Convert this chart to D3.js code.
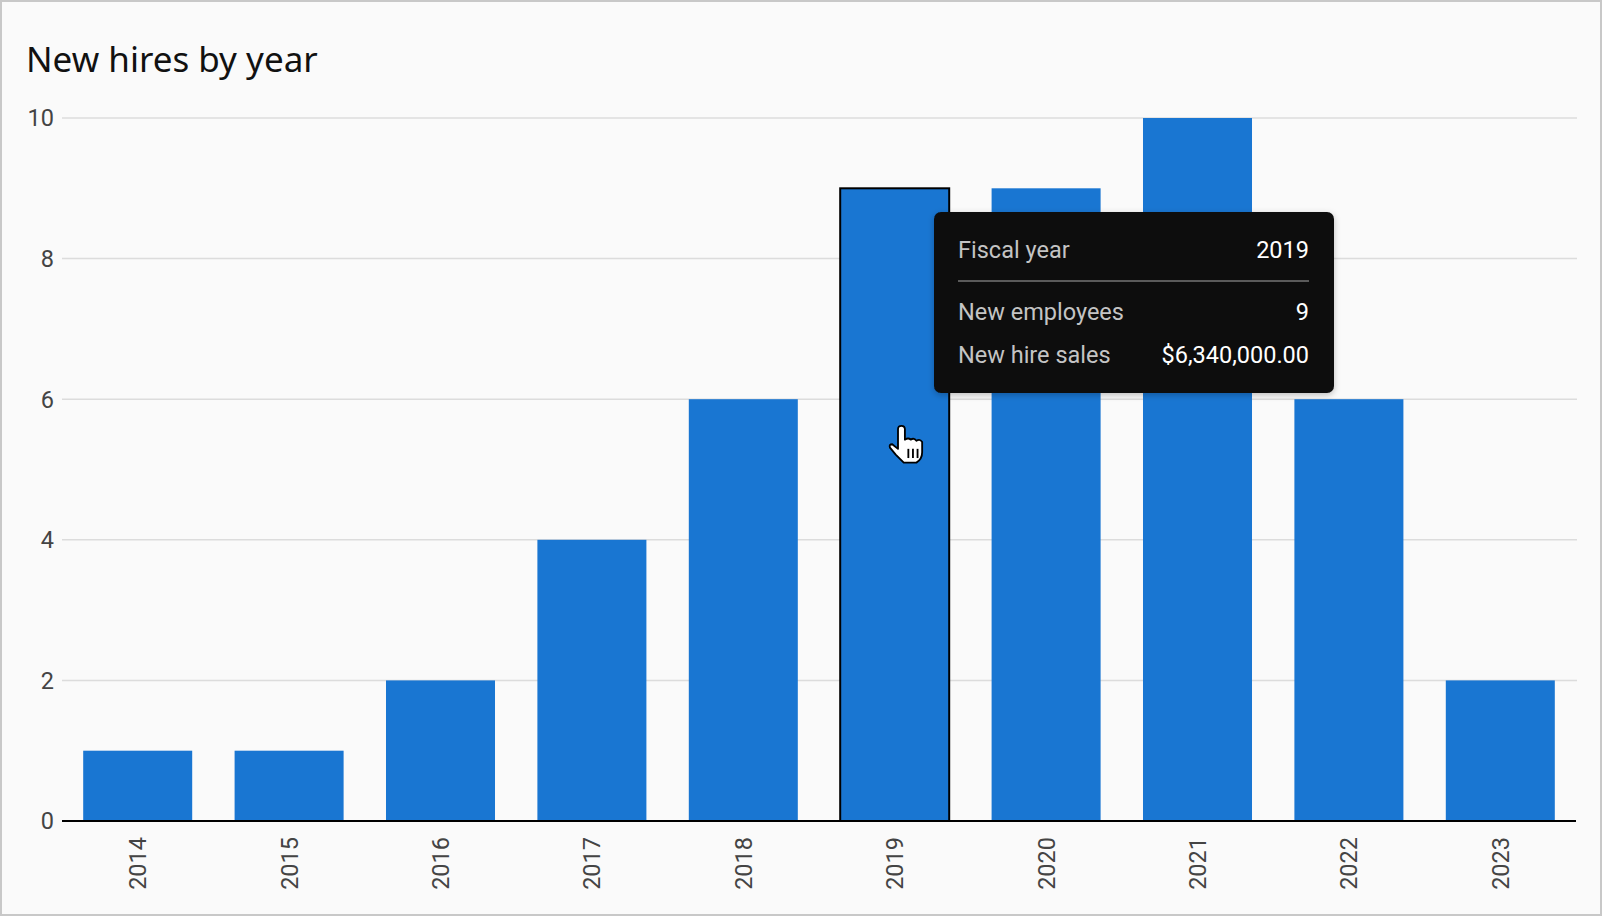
<!DOCTYPE html>
<html>
<head lang="en">
    <meta charset="UTF-8">
    <title> New hires by year </title>
    <script type="text/javascript" src="https://cdn.jsdelivr.net/npm/d3@7"></script>
    <style>
        html, body { margin: 0; padding: 0; background: #ffffff; }
        svg { display: block; }
    </style>
</head>
<body>
<div id="chart"></div>

<script>

    // data
    var years     = ["2014","2015","2016","2017","2018","2019","2020","2021","2022","2023"];
    var employees = [1, 1, 2, 4, 6, 9, 9, 10, 6, 2];
    var yTicks    = [0, 2, 4, 6, 8, 10];

    // tooltip content (hovered year)
    var tipYear   = "2019";
    var tipLabels = ["Fiscal year", "New employees", "New hire sales"];
    var tipValues = ["2019", "9", "$6,340,000.00"];

    var W = 1602, H = 916;
    var barColor = "#1976d2";

    var svg = d3.select("#chart").append("svg")
            .attr("width", W)
            .attr("height", H);

    // card background + border
    svg.append("rect")
            .attr("x", 1).attr("y", 1)
            .attr("width", W - 2).attr("height", H - 2)
            .style("fill", "#fafafa")
            .style("stroke", "#c8c8c8")
            .style("stroke-width", 2);

    svg.append("text")
            .attr("x", 26)
            .attr("y", 72)
            .text("New hires by year")
            .style("font-family", "Noto Sans")
            .style("font-size", "35px")
            .style("fill", "#111");

    var x = d3.scaleBand()
            .domain(years)
            .range([62, 1576])
            .paddingInner(0.28)
            .paddingOuter(0.14);

    var y = d3.scaleLinear()
            .domain([0, 10])
            .range([821, 118]);

    // grid lines
    svg.append("g")
            .selectAll("line")
            .data(yTicks.filter(function (d) { return d > 0; }))
            .enter().append("line")
            .attr("x1", 62).attr("x2", 1577)
            .attr("y1", function (d) { return y(d); })
            .attr("y2", function (d) { return y(d); })
            .style("stroke", "#dcdcdc")
            .style("stroke-width", 1.5);

    // y labels
    svg.append("g")
            .selectAll("text")
            .data(yTicks)
            .enter().append("text")
            .attr("x", 54)
            .attr("y", function (d) { return y(d); })
            .attr("dy", "0.36em")
            .attr("text-anchor", "end")
            .text(function (d) { return d; })
            .style("font-family", "Roboto")
            .style("font-size", "23.5px")
            .style("fill", "#444");

    // bars
    svg.append("g")
            .selectAll("rect")
            .data(years)
            .enter().append("rect")
            .attr("x", function (d) { return x(d); })
            .attr("y", function (d, i) { return y(employees[i]); })
            .attr("width", x.bandwidth())
            .attr("height", function (d, i) { return y(0) - y(employees[i]); })
            .style("fill", barColor)
            .style("stroke", function (d) { return d == tipYear ? "#000" : "none"; })
            .style("stroke-width", 2);

    // baseline
    svg.append("line")
            .attr("x1", 62).attr("x2", 1576)
            .attr("y1", y(0)).attr("y2", y(0))
            .style("stroke", "#000")
            .style("stroke-width", 2);

    // x labels, rotated
    svg.append("g")
            .selectAll("text")
            .data(years)
            .enter().append("text")
            .attr("transform", function (d) {
                return "translate(" + (x(d) + x.bandwidth() / 2) + "," + (y(0) + 16) + ") rotate(-90)";
            })
            .attr("dy", "0.36em")
            .attr("text-anchor", "end")
            .text(function (d) { return d; })
            .style("font-family", "Roboto")
            .style("font-size", "23.5px")
            .style("fill", "#444");

    // cursor (hand)
    var hand = svg.append("g")
            .attr("transform", "translate(898,427) scale(1.15)");
    hand.append("path")
            .attr("d", "M0,2 Q0,-1 3,-1 Q6,-1 6,2 L6,11 Q9,9 11,11 Q14,9 16,12 Q19,10 21,13 L21,22 Q21,28 16,31 L5,31 Q2,28 -2,24 L-7,18 Q-8,15 -5,15 L0,19 Z")
            .style("fill", "#fff")
            .style("stroke", "#000")
            .style("stroke-width", 1.6)
            .style("stroke-linejoin", "round");
    hand.selectAll("line.f")
            .data([9, 13, 17])
            .enter().append("line")
            .attr("x1", function (d) { return d; }).attr("x2", function (d) { return d; })
            .attr("y1", 19).attr("y2", 27)
            .style("stroke", "#000")
            .style("stroke-width", 1.6);

    // tooltip
    var tip = svg.append("g");
    var defs = svg.append("defs");
    var f = defs.append("filter").attr("id", "shadow")
            .attr("x", "-10%").attr("y", "-10%").attr("width", "120%").attr("height", "130%");
    f.append("feDropShadow")
            .attr("dx", 0).attr("dy", 2).attr("stdDeviation", 3)
            .attr("flood-color", "#000").attr("flood-opacity", 0.25);

    tip.append("rect")
            .attr("x", 934).attr("y", 212)
            .attr("width", 400).attr("height", 181)
            .attr("rx", 7)
            .style("fill", "#0b0b0b")
            .attr("filter", "url(#shadow)");

    var rowY = [258, 320, 363];
    tip.selectAll("text.lab")
            .data(tipLabels)
            .enter().append("text")
            .attr("x", 958)
            .attr("y", function (d, i) { return rowY[i]; })
            .text(function (d) { return d; })
            .style("font-family", "Roboto")
            .style("font-size", "23.5px")
            .style("fill", "#c4c4c4");
    tip.selectAll("text.val")
            .data(tipValues)
            .enter().append("text")
            .attr("x", 1309)
            .attr("y", function (d, i) { return rowY[i]; })
            .attr("text-anchor", "end")
            .text(function (d) { return d; })
            .style("font-family", "Roboto")
            .style("font-size", "23.5px")
            .style("fill", "#fff");
    tip.append("line")
            .attr("x1", 958).attr("x2", 1309)
            .attr("y1", 281).attr("y2", 281)
            .style("stroke", "#5a5a5a")
            .style("stroke-width", 2);

</script>
</body>
</html>
